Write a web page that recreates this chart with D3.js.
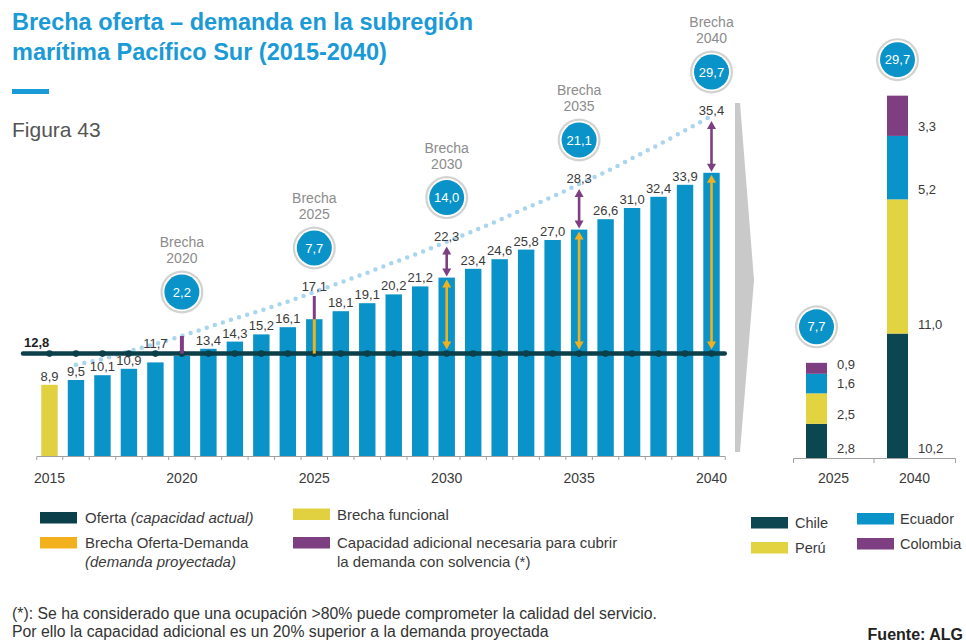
<!DOCTYPE html>
<html>
<head>
<meta charset="utf-8">
<script src="https://cdn.jsdelivr.net/npm/d3@7"></script>
<style>
	body { margin: 0; background: #fff; }
	svg { display: block; font-family: "Liberation Sans", Arial, Helvetica, sans-serif; }
</style>
</head>
<body>
<svg id="chart"></svg>
<script>
// Demanda proyectada (Mton) por año
const years = [2015, 2016, 2017, 2018, 2019, 2020, 2021, 2022, 2023, 2024, 2025, 2026, 2027,
	2028, 2029, 2030, 2031, 2032, 2033, 2034, 2035, 2036, 2037, 2038, 2039, 2040];
const demand = [8.9, 9.5, 10.1, 10.9, 11.7, 12.5, 13.4, 14.3, 15.2, 16.1, 17.1, 18.1, 19.1,
	20.2, 21.2, 22.3, 23.4, 24.6, 25.8, 27.0, 28.3, 29.6, 31.0, 32.4, 33.9, 35.4];
// etiquetas tal como aparecen en la figura (2020 sin etiqueta)
const barLabels = ["8,9", "9,5", "10,1", "10,9", "11,7", "", "13,4", "14,3", "15,2", "16,1", "17,1", "18,1", "19,1",
	"20,2", "21,2", "22,3", "23,4", "24,6", "25,8", "27,0", "28,3", "26,6", "31,0", "32,4", "33,9", "35,4"];
// capacidad necesaria con solvencia (línea punteada)
const capacidad = [null, 11.4, 12.1, 13.1, 14.0, 15.0, 16.1, 17.2, 18.2, 19.3, 20.5, 21.7, 22.9,
	24.2, 25.4, 26.8, 28.1, 29.5, 31.0, 32.4, 34.0, 35.5, 37.2, 38.9, 40.7, 42.5];
const oferta = 12.8;

const tickYears = [2015, 2020, 2025, 2030, 2035, 2040];
const gapYears = [2020, 2025, 2030, 2035, 2040];
const gapValues = [2.2, 7.7, 14.0, 21.1, 29.7];
const arrowYears = [2030, 2035, 2040];

// reparto de la brecha por país
const countries = ["Chile", "Perú", "Ecuador", "Colombia"];
const countryColors = ["#0c4650", "#e2d341", "#0a93c8", "#7e3f82"];
const splitYears = [2025, 2040];
const split2025 = [2.8, 2.5, 1.6, 0.9];
const split2040 = [10.2, 11.0, 5.2, 3.3];
const splitTotals = [7.7, 29.7];

const BLUE = "#0a93c8", DARK = "#0b3f49", YELLOW = "#e1d140", ORANGE = "#f2b11c",
	PURPLE = "#7e3f82", TEXT = "#3a3a3a", GREY = "#8c8c8c";

const fmt = d3.formatLocale({ decimal: ",", thousands: ".", grouping: [3], currency: ["", ""] }).format(".1f");

const svg = d3.select("#chart")
	.attr("width", 966)
	.attr("height", 643);

// Título
svg.append("text")
	.attr("x", 12).attr("y", 30)
	.style("font-size", "23.5px").style("font-weight", "bold").style("fill", "#1a9ad6")
	.text("Brecha oferta – demanda en la subregión");
svg.append("text")
	.attr("x", 12).attr("y", 60)
	.style("font-size", "23.5px").style("font-weight", "bold").style("fill", "#1a9ad6")
	.text("marítima Pacífico Sur (2015-2040)");
svg.append("rect")
	.attr("x", 12).attr("y", 89).attr("width", 37).attr("height", 5)
	.style("fill", "#1a9ad6");
svg.append("text")
	.attr("x", 12).attr("y", 137)
	.style("font-size", "21px").style("fill", "#555")
	.text("Figura 43");

// ---------- gráfico principal ----------
const x = d3.scaleBand().domain(years).range([36.25, 724.75]).paddingInner(0.38).paddingOuter(0.19);
const y = d3.scaleLinear().domain([0, 45]).range([456, 96]);
const bw = x.bandwidth();
const cx = yr => x(yr) + bw / 2;
const idx = yr => years.indexOf(yr);

const main = svg.append("g");

// eje x
const xAxis = main.append("g")
	.attr("transform", `translate(0,${y(0)})`)
	.call(d3.axisBottom(x).tickValues(tickYears).tickSize(0).tickSizeOuter(4).tickPadding(17));
xAxis.select(".domain").style("stroke", "#a0a0a0");
xAxis.selectAll("text").style("font-size", "14px").style("fill", TEXT).style("font-family", "inherit");
main.append("g")
	.selectAll("line")
	.data(years.slice(1))
	.enter()
	.append("line")
	.attr("x1", d => x(d) - x.step() * 0.19)
	.attr("x2", d => x(d) - x.step() * 0.19)
	.attr("y1", y(0)).attr("y2", y(0) + 4)
	.style("stroke", "#a0a0a0");

// barras de demanda
main.append("g")
	.selectAll("rect")
	.data(years)
	.enter()
	.append("rect")
	.attr("x", d => x(d))
	.attr("y", (d, i) => y(demand[i]))
	.attr("width", bw)
	.attr("height", (d, i) => y(0) - y(demand[i]))
	.style("fill", d => d === 2015 ? YELLOW : BLUE);

// línea punteada de capacidad necesaria
const capPoints = years.map((d, i) => ({ year: d, value: capacidad[i] })).filter(d => d.value !== null);
main.append("path")
	.datum(capPoints)
	.attr("d", d3.line().x(d => cx(d.year)).y(d => y(d.value)))
	.style("fill", "none")
	.style("stroke", "#a9d5ee")
	.style("stroke-width", 4.5)
	.style("stroke-linecap", "round")
	.style("stroke-dasharray", "0,8.5");

// oferta actual
main.append("line")
	.attr("x1", 23).attr("x2", x.range()[1])
	.attr("y1", y(oferta)).attr("y2", y(oferta))
	.style("stroke", DARK).style("stroke-width", 4.5).style("stroke-linecap", "round");
main.append("g")
	.selectAll("circle")
	.data(years)
	.enter()
	.append("circle")
	.attr("cx", d => cx(d)).attr("cy", y(oferta)).attr("r", 3.3)
	.style("fill", DARK);
main.append("text")
	.attr("x", 24).attr("y", y(oferta) - 7)
	.style("font-size", "13px").style("font-weight", "bold").style("fill", "#222")
	.text(fmt(oferta));

// flechas dobles
function doubleArrow(xPos, yTop, yBottom, color) {
	const head = 8, half = 4.5;
	main.append("line")
		.attr("x1", xPos).attr("x2", xPos)
		.attr("y1", yTop + head - 1).attr("y2", yBottom - head + 1)
		.style("stroke", color).style("stroke-width", 2.6);
	main.append("path")
		.attr("d", `M${xPos},${yTop} L${xPos - half},${yTop + head} L${xPos + half},${yTop + head} Z`)
		.style("fill", color);
	main.append("path")
		.attr("d", `M${xPos},${yBottom} L${xPos - half},${yBottom - head} L${xPos + half},${yBottom - head} Z`)
		.style("fill", color);
}
arrowYears.forEach(yr => {
	const i = idx(yr);
	doubleArrow(cx(yr), y(demand[i]) + 2, y(oferta) - 4, ORANGE);
	doubleArrow(cx(yr), y(capacidad[i]) + 5, y(demand[i]) - 1, PURPLE);
});
// 2025: trazos simples
main.append("line")
	.attr("x1", cx(2025)).attr("x2", cx(2025))
	.attr("y1", y(demand[idx(2025)])).attr("y2", y(oferta))
	.style("stroke", ORANGE).style("stroke-width", 3);
main.append("line")
	.attr("x1", cx(2025)).attr("x2", cx(2025))
	.attr("y1", y(capacidad[idx(2025)]) + 4).attr("y2", y(demand[idx(2025)]))
	.style("stroke", PURPLE).style("stroke-width", 3);
// 2020: capacidad adicional sobre la oferta
main.append("line")
	.attr("x1", cx(2020)).attr("x2", cx(2020))
	.attr("y1", y(capacidad[idx(2020)])).attr("y2", y(oferta))
	.style("stroke", PURPLE).style("stroke-width", 4);

// etiquetas de las barras
main.append("g")
	.selectAll("text")
	.data(years)
	.enter()
	.append("text")
	.attr("x", d => cx(d))
	.attr("y", (d, i) => {
		if (d === 2025 || arrowYears.includes(d)) return y(capacidad[i]) - 1;
		const base = y(demand[i]) - 4;
		return (base > y(oferta) && base < y(oferta) + 10) ? y(oferta) - 6 : base;
	})
	.attr("text-anchor", "middle")
	.style("font-size", "13px").style("fill", TEXT)
	.text((d, i) => barLabels[i]);

// burbujas de brecha
function bubble(g, bx, by, label) {
	g.append("circle").attr("cx", bx).attr("cy", by).attr("r", 21.5).style("fill", "#d2d2d2");
	g.append("circle").attr("cx", bx).attr("cy", by).attr("r", 19.3).style("fill", "#fff");
	g.append("circle").attr("cx", bx).attr("cy", by).attr("r", 17.5).style("fill", BLUE);
	g.append("text").attr("x", bx).attr("y", by).attr("dy", "0.35em")
		.attr("text-anchor", "middle")
		.style("font-size", "13px").style("fill", "#fff")
		.text(label);
}
gapYears.forEach((yr, k) => {
	const by = y(capacidad[idx(yr)]) - 44;
	bubble(main, cx(yr), by, fmt(gapValues[k]));
	main.append("text").attr("x", cx(yr)).attr("y", by - 45).attr("text-anchor", "middle")
		.style("font-size", "14px").style("fill", GREY).text("Brecha");
	main.append("text").attr("x", cx(yr)).attr("y", by - 29).attr("text-anchor", "middle")
		.style("font-size", "14px").style("fill", GREY).text(yr);
});

// flecha gris hacia el desglose
svg.append("path")
	.attr("d", "M735,103 L740,103 L754,280 L740,452 L735,452 Z")
	.style("fill", "#c9c9c9");

// ---------- desglose por país ----------
const xR = d3.scaleBand().domain(splitYears).range([793, 955]);
const yR = d3.scaleLinear().domain([0, 30]).range([458, 92]);
const barW = 21;

const splitRows = splitYears.map((yr, k) => {
	const vals = k === 0 ? split2025 : split2040;
	const row = { year: yr };
	countries.forEach((c, j) => { row[c] = vals[j]; });
	return row;
});
const stacked = d3.stack().keys(countries)(splitRows);

const right = svg.append("g");
const rAxis = right.append("g")
	.attr("transform", `translate(0,${yR(0)})`)
	.call(d3.axisBottom(xR).tickSize(0).tickSizeOuter(5).tickPadding(15));
rAxis.select(".domain").style("stroke", "#a0a0a0");
rAxis.selectAll("text").style("font-size", "14px").style("fill", TEXT).style("font-family", "inherit");
right.append("line")
	.attr("x1", xR(2040)).attr("x2", xR(2040)).attr("y1", yR(0)).attr("y2", yR(0) + 5)
	.style("stroke", "#a0a0a0");

stacked.forEach((layer, j) => {
	right.append("g")
		.selectAll("rect")
		.data(layer)
		.enter()
		.append("rect")
		.attr("x", d => xR(d.data.year) + 13)
		.attr("y", d => yR(d[1]))
		.attr("width", barW)
		.attr("height", d => yR(d[0]) - yR(d[1]))
		.style("fill", countryColors[j]);
	right.append("g")
		.selectAll("text")
		.data(layer)
		.enter()
		.append("text")
		.attr("x", d => xR(d.data.year) + 13 + barW + 10)
		.attr("y", d => yR(d[0]) - 5)
		.style("font-size", "13px").style("fill", TEXT)
		.text(d => fmt(d[1] - d[0]));
});
splitYears.forEach((yr, k) => {
	const top = d3.sum(k === 0 ? split2025 : split2040);
	bubble(right, xR(yr) + 13 + barW / 2, yR(top) - 36, fmt(splitTotals[k]));
});

// ---------- leyendas ----------
const legend = svg.append("g").style("font-size", "15px").style("fill", TEXT);
function legendRect(lx, ly, color) {
	legend.append("rect").attr("x", lx).attr("y", ly).attr("width", 37).attr("height", 11.5).style("fill", color);
}
legendRect(40, 512, DARK);
const t1 = legend.append("text").attr("x", 85).attr("y", 523);
t1.append("tspan").text("Oferta ");
t1.append("tspan").style("font-style", "italic").text("(capacidad actual)");
legendRect(40, 537, ORANGE);
legend.append("text").attr("x", 85).attr("y", 548).text("Brecha Oferta-Demanda");
legend.append("text").attr("x", 85).attr("y", 567).style("font-style", "italic").text("(demanda proyectada)");
legendRect(293, 508.5, YELLOW);
legend.append("text").attr("x", 337).attr("y", 520).text("Brecha funcional");
legendRect(293, 537, PURPLE);
legend.append("text").attr("x", 337).attr("y", 548).text("Capacidad adicional necesaria para cubrir");
legend.append("text").attr("x", 337).attr("y", 567).text("la demanda con solvencia  (*)");

const legendPos = [[751, 517], [751, 542], [857, 513], [857, 538]];
countries.forEach((c, j) => {
	legendRect(legendPos[j][0], legendPos[j][1], countryColors[j]);
	legend.append("text")
		.attr("x", legendPos[j][0] + (j < 2 ? 44 : 43))
		.attr("y", legendPos[j][1] + 10.5)
		.style("font-size", "14.5px")
		.text(c);
});

// notas
svg.append("text").attr("x", 12).attr("y", 619)
	.style("font-size", "15.8px").style("fill", "#333")
	.text("(*): Se ha considerado que una ocupación >80% puede comprometer la calidad del servicio.");
svg.append("text").attr("x", 12).attr("y", 637)
	.style("font-size", "15.8px").style("fill", "#333")
	.text("Por ello la capacidad adicional es un 20% superior a la demanda proyectada");
svg.append("text").attr("x", 963).attr("y", 640).attr("text-anchor", "end")
	.style("font-size", "16px").style("font-weight", "bold").style("fill", "#222")
	.text("Fuente: ALG");
</script>
</body>
</html>
